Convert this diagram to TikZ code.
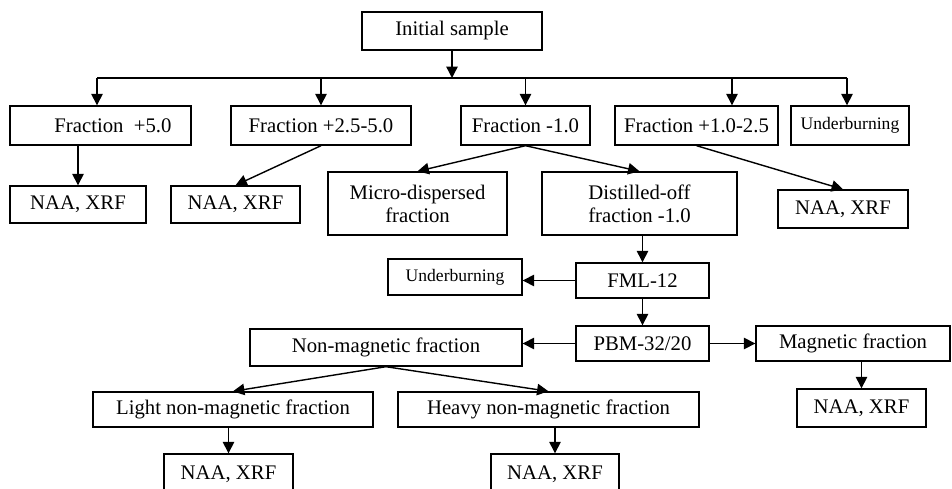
\documentclass[tikz,border=0pt]{standalone}
\usepackage{fontspec}
\setmainfont{Liberation Serif}
\usepackage{tikz}
\usetikzlibrary{arrows.meta}
\tikzstyle{box} = [draw, rectangle, line width=0.8pt, inner sep=2pt, align=center,
   font=\fontsize{11.8}{13}\selectfont]
\tikzstyle{smallbox} = [box, font=\fontsize{10}{12}\selectfont]
\tikzstyle{flow} = [line width=0.8pt, -{Triangle[length=6.5pt,width=6.5pt]}]

\begin{document}
\begin{tikzpicture}[x=0.02cm, y=-0.02cm]
  \useasboundingbox (0,0) rectangle (952,489);

  % top level
  \node[box,minimum width=3.6cm,minimum height=0.76cm] at (452,31)(init){Initial sample};
  \coordinate (busL) at (97,78);
  \coordinate (busR) at (847,78);

  % fractions
  \node[box,minimum width=3.62cm,minimum height=0.78cm] at (100.5,125.5)(f5){\hspace{1.2em}Fraction\ \ +5.0};
  \node[box,minimum width=3.6cm,minimum height=0.78cm] at (321,125.5)(f25){Fraction +2.5-5.0};
  \node[box,minimum width=2.58cm,minimum height=0.78cm] at (525.5,125.5)(f1){Fraction -1.0};
  \node[box,minimum width=3.26cm,minimum height=0.78cm] at (696.5,125.5)(f12){Fraction +1.0-2.5};
  \node[smallbox,minimum width=2.36cm,minimum height=0.78cm] at (850,125.5)(ub1){Underburning};
  \coordinate (d4) at ([xshift=0.71cm]f12.north);

  % second row
  \node[box,minimum width=2.72cm,minimum height=0.74cm] at (78,204.5)(naa1){NAA, XRF};
  \node[box,minimum width=2.58cm,minimum height=0.74cm] at (235.5,204.5)(naa2){NAA, XRF};
  \node[box,minimum width=3.58cm,minimum height=1.26cm] at (417.5,203.5)(micro){Micro-dispersed\\fraction};
  \node[box,minimum width=3.9cm,minimum height=1.26cm] at (639.5,203.5)(dist){Distilled-off\\fraction -1.0};
  \node[box,minimum width=2.6cm,minimum height=0.76cm] at (843,209)(naa3){NAA, XRF};

  % separation
  \node[smallbox,minimum width=2.68cm,minimum height=0.72cm] at (455,277)(ub2){Underburning};
  \node[box,minimum width=2.66cm,minimum height=0.7cm] at (642.5,280.5)(fml){FML-12};
  \node[box,minimum width=2.66cm,minimum height=0.7cm] at (642.5,343.5)(pbm){PBM-32/20};
  \node[box,minimum width=5.44cm,minimum height=0.74cm] at (386,347.5)(nonmag){Non-magnetic fraction};
  \node[box,minimum width=3.88cm,minimum height=0.7cm] at (853,343.5)(mag){Magnetic fraction};
  \node[box,minimum width=2.58cm,minimum height=0.76cm] at (861.5,408)(naa4){NAA, XRF};
  \node[box,minimum width=5.6cm,minimum height=0.7cm] at (233,409.5)(light){Light non-magnetic fraction};
  \node[box,minimum width=6.02cm,minimum height=0.7cm] at (548.5,409.5)(heavy){Heavy non-magnetic fraction};
  \node[box,minimum width=2.58cm,minimum height=0.8cm] at (228.5,474)(naa5){NAA, XRF};
  \node[box,minimum width=2.56cm,minimum height=0.8cm] at (555,474)(naa6){NAA, XRF};

  % bus
  \draw[line width=0.8pt] (busL) -- (busR);
  \draw[flow] (init) -- (init |- busL);
  \draw[flow] (busL) -- (busL |- f5.north);
  \draw[flow] (f25.north |- busL) -- (f25.north);
  \draw[flow] (f1.north |- busL) -- (f1.north);
  \draw[flow] (d4 |- busL) -- (d4);
  \draw[flow] (busR) -- (busR |- ub1.north);

  \draw[flow] (naa1.north |- f5.south) -- (naa1.north);
  \draw[flow] (f25.south) -- (naa2.north);
  \draw[flow] (f1.south) -- (micro.north);
  \draw[flow] (f1.south) -- (dist.north);
  \draw[flow] (f12.south) -- (naa3.north);

  \draw[flow] (fml.north |- dist.south) -- (fml.north);
  \draw[flow] (fml.west) -- (fml.west -| ub2.east);
  \draw[flow] (fml) -- (pbm);
  \draw[flow] (pbm.west) -- (pbm.west -| nonmag.east);
  \draw[flow] (pbm.east) -- (pbm.east -| mag.west);
  \draw[flow] (naa4.north |- mag.south) -- (naa4.north);
  \draw[flow] (nonmag.south) -- (light.north);
  \draw[flow] (nonmag.south) -- (heavy.north);
  \draw[flow] (naa5.north |- light.south) -- (naa5.north);
  \draw[flow] (naa6.north |- heavy.south) -- (naa6.north);
\end{tikzpicture}
\end{document}
